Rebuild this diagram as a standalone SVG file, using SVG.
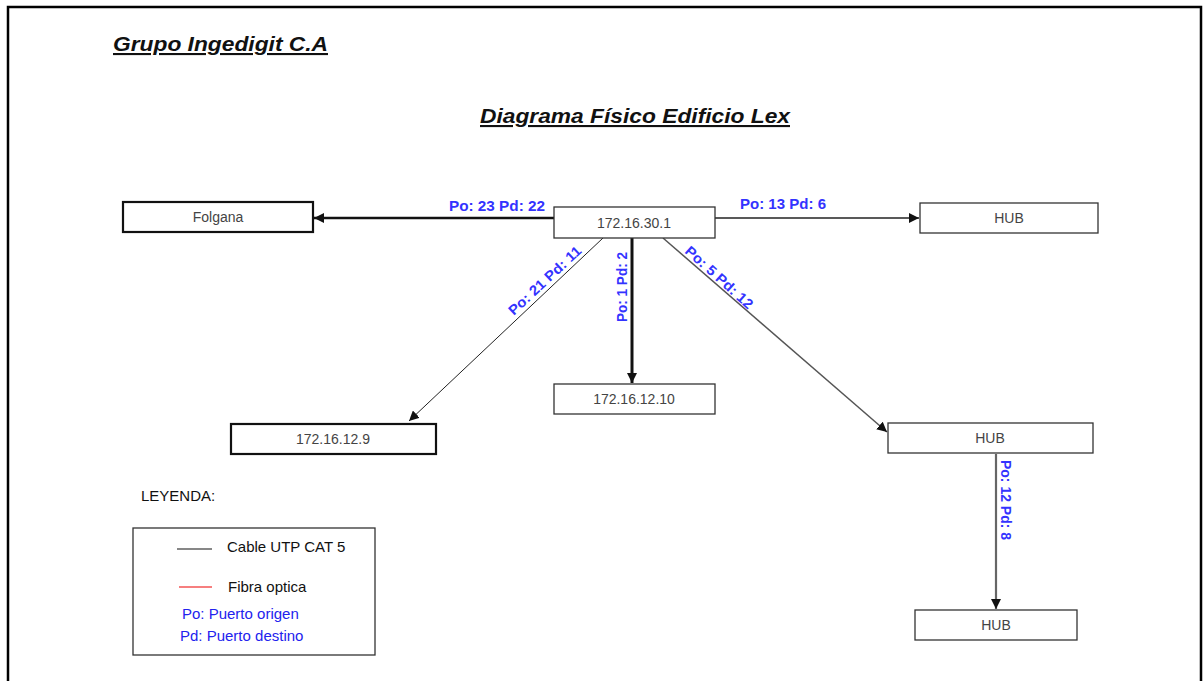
<svg xmlns="http://www.w3.org/2000/svg" width="1203" height="681" viewBox="0 0 1203 681">
  <style>
    .box { fill: #fff; stroke: #333; stroke-width: 1.3; }
    .box-thick { fill: #fff; stroke: #111; stroke-width: 2.2; }
    .lbl { font-family: "Liberation Sans", Arial, sans-serif; font-size: 14px; fill: #444; text-anchor: middle; }
    .port { font-family: "Liberation Sans", Arial, sans-serif; font-size: 14px; font-weight: bold; fill: #3333ff; }
    .head { font-family: "Liberation Sans", Arial, sans-serif; font-size: 21px; font-weight: bold; font-style: italic; text-decoration: underline; fill: #111; }
    .leg { font-family: "Liberation Sans", Arial, sans-serif; font-size: 15px; fill: #111; }
    .legb { font-family: "Liberation Sans", Arial, sans-serif; font-size: 15px; fill: #2222ee; }
  </style>
  <defs>
    <marker id="arr" viewBox="0 0 10 10" refX="10" refY="5" markerWidth="10" markerHeight="10" markerUnits="userSpaceOnUse" orient="auto">
      <path d="M0,0 L10,5 L0,10 Z" fill="#111"/>
    </marker>
  </defs>

  <rect width="1203" height="681" fill="#fff"/>
  <!-- page frame -->
  <path d="M8,681 V7 H1201 V681" fill="none" stroke="#000" stroke-width="2.5"/>

  <text class="head" x="113" y="51" textLength="215" lengthAdjust="spacingAndGlyphs">Grupo Ingedigit C.A</text>
  <text class="head" x="480" y="123" textLength="310" lengthAdjust="spacingAndGlyphs">Diagrama Físico Edificio Lex</text>

  <!-- connectors -->
  <g id="connectors">
    <line x1="554" y1="218" x2="314" y2="218" stroke="#111" stroke-width="2.5" marker-end="url(#arr)"/>
    <line x1="715" y1="218" x2="919" y2="218" stroke="#222" stroke-width="1.5" marker-end="url(#arr)"/>
    <line x1="603" y1="238" x2="409" y2="421" stroke="#222" stroke-width="1" marker-end="url(#arr)"/>
    <line x1="632" y1="238" x2="632" y2="383" stroke="#111" stroke-width="3" marker-end="url(#arr)"/>
    <line x1="663" y1="238" x2="887" y2="432" stroke="#555" stroke-width="1.5" marker-end="url(#arr)"/>
    <line x1="996" y1="454" x2="996" y2="609" stroke="#666" stroke-width="2.2" marker-end="url(#arr)"/>

    <text class="port" x="449" y="211" textLength="96" lengthAdjust="spacingAndGlyphs">Po: 23 Pd: 22</text>
    <text class="port" x="740" y="209" textLength="86" lengthAdjust="spacingAndGlyphs">Po: 13 Pd: 6</text>
    <text class="port" transform="translate(548,284) rotate(-43)" x="-47" textLength="94" lengthAdjust="spacingAndGlyphs">Po: 21 Pd: 11</text>
    <text class="port" transform="translate(627,287) rotate(-90)" x="-35" textLength="70" lengthAdjust="spacingAndGlyphs">Po: 1 Pd: 2</text>
    <text class="port" transform="translate(716,281) rotate(42)" x="-43" textLength="86" lengthAdjust="spacingAndGlyphs">Po: 5 Pd: 12</text>
    <text class="port" transform="translate(1001,500) rotate(90)" x="-40" textLength="80" lengthAdjust="spacingAndGlyphs">Po: 12 Pd: 8</text>
  </g>

  <!-- nodes -->
  <g id="folgana">
    <rect class="box-thick" x="123" y="202" width="190" height="30"/>
    <text class="lbl" x="218" y="222">Folgana</text>
  </g>
  <g id="core-172-16-30-1">
    <rect class="box" x="554" y="207" width="161" height="31"/>
    <text class="lbl" x="634" y="228">172.16.30.1</text>
  </g>
  <g id="hub-top">
    <rect class="box" x="920" y="203" width="178" height="30"/>
    <text class="lbl" x="1009" y="223">HUB</text>
  </g>
  <g id="host-172-16-12-10">
    <rect class="box" x="554" y="384" width="161" height="30"/>
    <text class="lbl" x="634" y="404">172.16.12.10</text>
  </g>
  <g id="host-172-16-12-9">
    <rect class="box-thick" x="231" y="424" width="205" height="30"/>
    <text class="lbl" x="333" y="444">172.16.12.9</text>
  </g>
  <g id="hub-mid">
    <rect class="box" x="888" y="423" width="205" height="30"/>
    <text class="lbl" x="990" y="443">HUB</text>
  </g>
  <g id="hub-bottom">
    <rect class="box" x="915" y="610" width="162" height="30"/>
    <text class="lbl" x="996" y="630">HUB</text>
  </g>

  <!-- legend -->
  <g id="legend">
    <text class="leg" x="141" y="501">LEYENDA:</text>
    <rect x="133" y="528" width="242" height="127" fill="#fff" stroke="#333" stroke-width="1.3"/>
    <line x1="177" y1="549" x2="212" y2="549" stroke="#111" stroke-width="1.2"/>
    <text class="leg" x="227" y="552">Cable UTP CAT 5</text>
    <line x1="179" y1="587" x2="212" y2="587" stroke="#e00" stroke-width="1.2"/>
    <text class="leg" x="228" y="592">Fibra optica</text>
    <text class="legb" x="182" y="619">Po: Puerto origen</text>
    <text class="legb" x="180" y="641">Pd: Puerto destino</text>
  </g>
</svg>
